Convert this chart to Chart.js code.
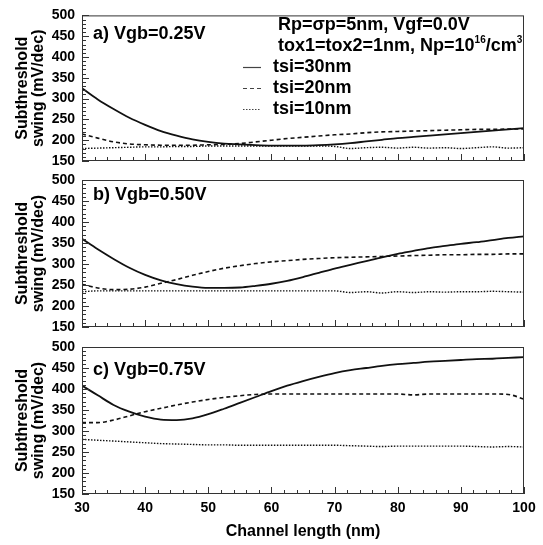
<!DOCTYPE html>
<html>
<head>
<meta charset="utf-8">
<script src="https://cdn.jsdelivr.net/npm/chart.js@4"></script>
<style>
  body { margin: 0; background: #fff; }
  #wrap { position: relative; width: 543px; height: 545px; }
  canvas { position: absolute; left: 0; top: 0; }
</style>
</head>
<body>
<div id="wrap">
  <canvas id="pa" width="543" height="545"></canvas>
  <canvas id="pb" width="543" height="545"></canvas>
  <canvas id="pc" width="543" height="545"></canvas>
</div>
<script>
// channel length (nm)
var lengths = [30, 32.5, 35, 37.5, 40, 42.5, 45, 47.5, 50, 52.5, 55, 57.5, 60, 62.5, 65,
               67.5, 70, 72.5, 75, 77.5, 80, 82.5, 85, 87.5, 90, 92.5, 95, 97.5, 100];

// a) Vgb=0.25V
var a30 = [325, 298, 275, 254, 237, 222, 211, 202, 196, 192, 190, 188, 187, 187, 187,
           188, 190, 193, 197, 201, 205, 208, 211, 214, 217, 220, 223, 226, 229];
var a20 = [215, 205, 196, 191, 189, 188, 188, 188, 189, 190, 192, 196, 200, 204, 207,
           210, 213, 215, 218, 220, 221, 222, 223, 224, 225, 226, 226, 227, 227];
var a10 = [180, 181, 182, 183, 184, 184, 185, 185, 186, 186, 186, 186, 186, 186, 186,
           186, 185, 180, 182, 183, 181, 183, 181, 182, 180, 182, 184, 181, 182];

// b) Vgb=0.50V
var b30 = [360, 335, 312, 291, 274, 261, 252, 246, 243, 243, 244, 248, 253, 260, 269,
           279, 289, 298, 307, 316, 324, 331, 338, 343, 348, 352, 357, 362, 366];
var b20 = [252, 243, 239, 240, 245, 254, 263, 273, 282, 290, 296, 301, 305, 308, 311,
           313, 315, 316, 317, 318, 319, 320, 321, 322, 322, 323, 323, 324, 324];
var b10 = [234, 236, 236, 236, 236, 236, 236, 236, 236, 236, 236, 236, 236, 236, 236,
           236, 236, 232, 234, 231, 234, 232, 234, 233, 234, 234, 235, 234, 233];

// c) Vgb=0.75V
var c30 = [408, 385, 362, 346, 334, 327, 326, 330, 340, 353, 367, 381, 395, 408, 419,
           429, 438, 445, 450, 455, 459, 462, 465, 467, 469, 471, 472, 474, 476];
var c20 = [320, 320, 326, 336, 346, 354, 362, 369, 375, 380, 384, 387, 388, 388, 388,
           388, 388, 388, 388, 388, 388, 386, 388, 388, 388, 388, 388, 387, 376];
var c10 = [280, 278, 276, 274, 272, 270, 269, 268, 267, 267, 266, 266, 266, 266, 266,
           266, 266, 265, 264, 263, 264, 264, 264, 264, 264, 263, 262, 263, 262];

var seriesNames = ['tsi=30nm', 'tsi=20nm', 'tsi=10nm'];
var yTicks = [150, 200, 250, 300, 350, 400, 450, 500];

var FONT = "'Liberation Sans', Arial, sans-serif";
var INK = '#111';
var dashes = [[], [4, 3], [1.5, 1.5]];
var widths = [1.8, 1.6, 1.4];

function pts(ys) {
    return lengths.map(function (x, i) { return {x: x, y: ys[i]}; });
}

// box, inward ticks, panel label and (panel a) legend
function framePlugin(label, labelDy, withLegend) {
    return {
        id: 'frame',
        afterDatasetsDraw: function (chart) {
            var ctx = chart.ctx, a = chart.chartArea;
            var x = chart.scales.x, y = chart.scales.y;
            ctx.save();
            ctx.strokeStyle = '#333';
            ctx.lineWidth = 1;
            ctx.strokeRect(a.left + 0.5, a.top + 0.5, a.right - a.left - 1, a.bottom - a.top - 1);
            ctx.beginPath();
            for (var v = 30; v <= 100; v += 2) {
                var px = Math.round(x.getPixelForValue(v)) + 0.5;
                var len = v % 10 === 0 ? 7 : 4;
                ctx.moveTo(px, a.bottom);
                ctx.lineTo(px, a.bottom - len);
            }
            for (var w = 150; w <= 500; w += 10) {
                var py = Math.round(y.getPixelForValue(w)) + 0.5;
                var l2 = w % 50 === 0 ? 7 : 4;
                ctx.moveTo(a.left, py);
                ctx.lineTo(a.left + l2, py);
            }
            ctx.stroke();

            ctx.fillStyle = '#000';
            ctx.textBaseline = 'middle';
            ctx.font = 'bold 18px ' + FONT;
            ctx.fillText(label, a.left + 11, a.top + labelDy);

            if (withLegend) {
                var tx = 278;
                ctx.fillText('Rp=\u03c3p=5nm, Vgf=0.0V', tx, 25);
                var s = 'tox1=tox2=1nm, Np=10';
                ctx.fillText(s, tx, 46);
                var cx = tx + ctx.measureText(s).width;
                ctx.font = 'bold 10px ' + FONT;
                ctx.fillText('16', cx, 40);
                cx += ctx.measureText('16').width;
                ctx.font = 'bold 18px ' + FONT;
                ctx.fillText('/cm', cx, 46);
                cx += ctx.measureText('/cm').width;
                ctx.font = 'bold 10px ' + FONT;
                ctx.fillText('3', cx, 40);
                ctx.font = 'bold 18px ' + FONT;
                for (var k = 0; k < seriesNames.length; k++) {
                    var ry = 67 + k * 21;
                    ctx.strokeStyle = '#444';
                    ctx.lineWidth = 1.2;
                    ctx.setLineDash(dashes[k]);
                    ctx.beginPath();
                    ctx.moveTo(243, ry + 0.5);
                    ctx.lineTo(261, ry + 0.5);
                    ctx.stroke();
                    ctx.setLineDash([]);
                    ctx.fillText(seriesNames[k], 273, ry);
                }
            }
            ctx.restore();
        }
    };
}

function makePanel(id, series, top, bottom, label, labelDy, showX, withLegend) {
    var sets = series.map(function (ys, i) {
        return {
            label: seriesNames[i],
            data: pts(ys),
            borderColor: INK,
            borderWidth: widths[i],
            borderDash: dashes[i],
            pointRadius: 0,
            cubicInterpolationMode: 'monotone',
            fill: false
        };
    });
    return new Chart(document.getElementById(id), {
        type: 'line',
        data: {datasets: sets},
        options: {
            responsive: false,
            devicePixelRatio: 1,
            animation: false,
            layout: {padding: {top: top, bottom: showX ? 0 : 545 - bottom, left: 0, right: 19}},
            plugins: {legend: {display: false}, tooltip: {enabled: false}},
            scales: {
                x: {
                    type: 'linear',
                    min: 30, max: 100,
                    display: showX,
                    afterFit: function (s) { s.height = showX ? 51 : 0; },
                    grid: {display: false, drawTicks: false},
                    border: {display: false},
                    ticks: {
                        stepSize: 10, padding: 6, color: '#000',
                        font: {family: FONT, size: 14, weight: 'bold'}
                    },
                    title: {
                        display: true, text: 'Channel length (nm)', color: '#000',
                        font: {family: FONT, size: 16, weight: 'bold', lineHeight: 1},
                        padding: {top: 0, bottom: 5}
                    }
                },
                y: {
                    min: 150, max: 500,
                    afterFit: function (s) { s.width = 82; },
                    afterBuildTicks: function (s) { s.ticks = yTicks.map(function (v) { return {value: v}; }); },
                    grid: {display: false, drawTicks: false},
                    border: {display: false},
                    ticks: {
                        autoSkip: false, padding: 7, color: '#000',
                        font: {family: FONT, size: 14, weight: 'bold'}
                    },
                    title: {
                        display: true, text: ['Subthreshold', 'swing (mV/dec)'], color: '#000',
                        font: {family: FONT, size: 16, weight: 'bold', lineHeight: 1},
                        padding: {top: 15, bottom: 0}
                    }
                }
            }
        },
        plugins: [framePlugin(label, labelDy, withLegend)]
    });
}

makePanel('pa', [a30, a20, a10], 13, 161, 'a) Vgb=0.25V', 19, false, true);
makePanel('pb', [b30, b20, b10], 180, 327, 'b) Vgb=0.50V', 15, false, false);
makePanel('pc', [c30, c20, c10], 347, 494, 'c) Vgb=0.75V', 23, true, false);
</script>
</body>
</html>
